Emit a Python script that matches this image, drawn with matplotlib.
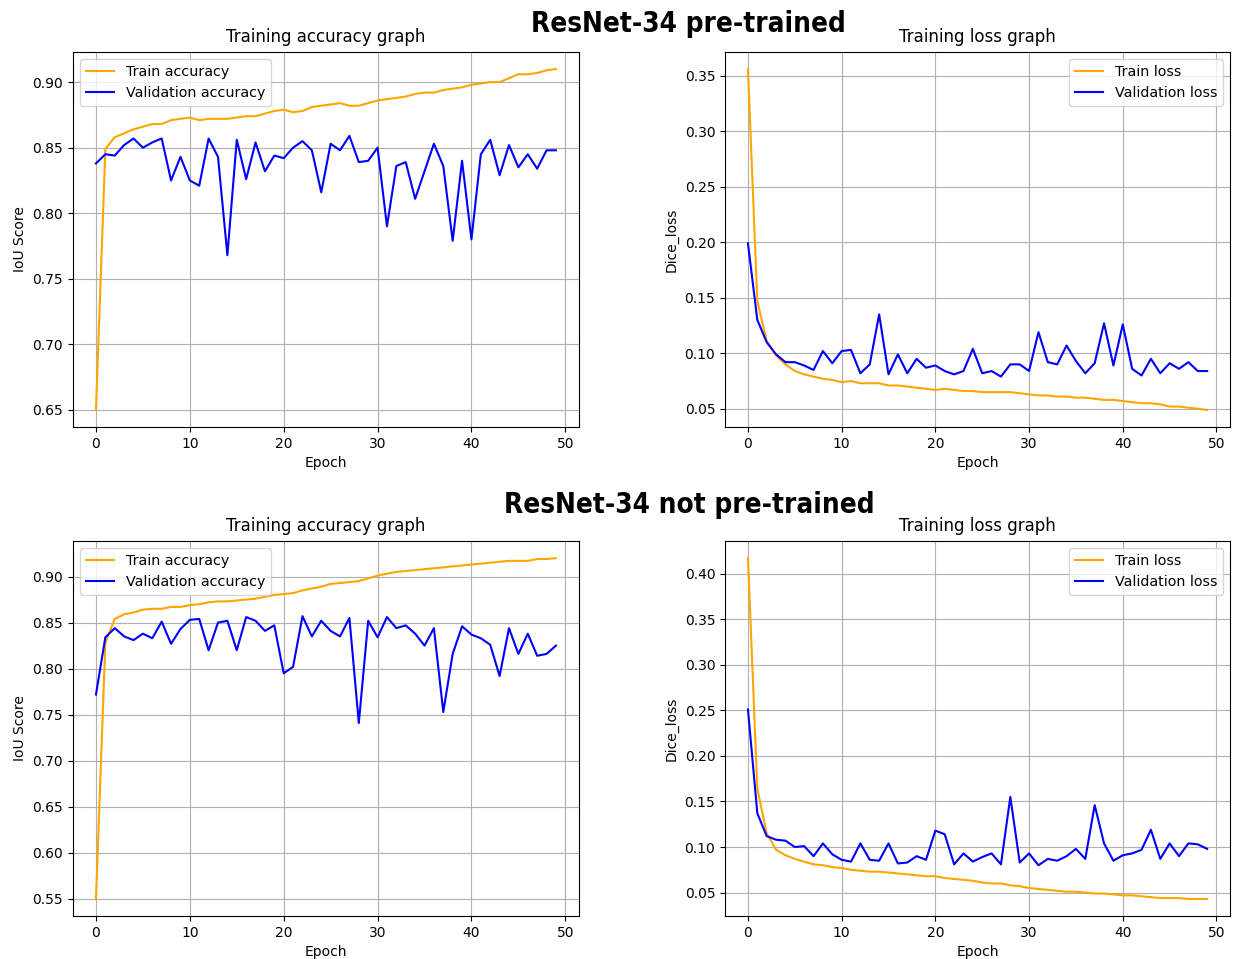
import matplotlib
matplotlib.use("Agg")
import matplotlib.pyplot as plt
import numpy as np

epochs = np.arange(50)

# ResNet-34 pre-trained
pre_train_acc = [0.650, 0.849, 0.858, 0.861, 0.864, 0.866, 0.868, 0.868, 0.871, 0.872,
                 0.873, 0.871, 0.872, 0.872, 0.872, 0.873, 0.874, 0.874, 0.876, 0.878,
                 0.879, 0.877, 0.878, 0.881, 0.882, 0.883, 0.884, 0.882, 0.882, 0.884,
                 0.886, 0.887, 0.888, 0.889, 0.891, 0.892, 0.892, 0.894, 0.895, 0.896,
                 0.898, 0.899, 0.900, 0.900, 0.903, 0.906, 0.906, 0.907, 0.909, 0.910]
pre_val_acc = [0.838, 0.845, 0.844, 0.852, 0.857, 0.850, 0.854, 0.857, 0.825, 0.843,
               0.825, 0.821, 0.857, 0.843, 0.768, 0.856, 0.826, 0.854, 0.832, 0.844,
               0.842, 0.850, 0.855, 0.848, 0.816, 0.853, 0.848, 0.859, 0.839, 0.840,
               0.850, 0.790, 0.836, 0.839, 0.811, 0.832, 0.853, 0.836, 0.779, 0.840,
               0.780, 0.845, 0.856, 0.829, 0.852, 0.835, 0.845, 0.834, 0.848, 0.848]
pre_train_loss = [0.356, 0.147, 0.111, 0.098, 0.090, 0.084, 0.081, 0.079, 0.077, 0.076,
                  0.074, 0.075, 0.073, 0.073, 0.073, 0.071, 0.071, 0.070, 0.069, 0.068,
                  0.067, 0.068, 0.067, 0.066, 0.066, 0.065, 0.065, 0.065, 0.065, 0.064,
                  0.063, 0.062, 0.062, 0.061, 0.061, 0.060, 0.060, 0.059, 0.058, 0.058,
                  0.057, 0.056, 0.055, 0.055, 0.054, 0.052, 0.052, 0.051, 0.050, 0.049]
pre_val_loss = [0.199, 0.130, 0.110, 0.099, 0.092, 0.092, 0.089, 0.085, 0.102, 0.091,
                0.102, 0.103, 0.082, 0.090, 0.135, 0.081, 0.099, 0.082, 0.095, 0.087,
                0.089, 0.084, 0.081, 0.084, 0.104, 0.082, 0.084, 0.079, 0.090, 0.090,
                0.084, 0.119, 0.092, 0.090, 0.107, 0.093, 0.082, 0.091, 0.127, 0.089,
                0.126, 0.086, 0.080, 0.095, 0.082, 0.091, 0.086, 0.092, 0.084, 0.084]

# ResNet-34 not pre-trained
scr_train_acc = [0.550, 0.828, 0.854, 0.859, 0.861, 0.864, 0.865, 0.865, 0.867, 0.867,
                 0.869, 0.870, 0.872, 0.873, 0.873, 0.874, 0.875, 0.876, 0.878, 0.880,
                 0.881, 0.882, 0.885, 0.887, 0.889, 0.892, 0.893, 0.894, 0.895, 0.898,
                 0.901, 0.903, 0.905, 0.906, 0.907, 0.908, 0.909, 0.910, 0.911, 0.912,
                 0.913, 0.914, 0.915, 0.916, 0.917, 0.917, 0.917, 0.919, 0.919, 0.920]
scr_val_acc = [0.772, 0.834, 0.844, 0.835, 0.831, 0.838, 0.833, 0.851, 0.827, 0.843,
               0.853, 0.854, 0.820, 0.850, 0.852, 0.820, 0.856, 0.852, 0.841, 0.847,
               0.795, 0.802, 0.857, 0.835, 0.852, 0.841, 0.835, 0.855, 0.741, 0.852,
               0.834, 0.856, 0.844, 0.847, 0.838, 0.825, 0.844, 0.753, 0.816, 0.846,
               0.837, 0.833, 0.826, 0.792, 0.844, 0.816, 0.838, 0.814, 0.816, 0.825]
scr_train_loss = [0.417, 0.164, 0.115, 0.097, 0.091, 0.087, 0.084, 0.081, 0.080, 0.078,
                  0.077, 0.075, 0.074, 0.073, 0.073, 0.072, 0.071, 0.070, 0.069, 0.068,
                  0.068, 0.066, 0.065, 0.064, 0.063, 0.061, 0.060, 0.060, 0.058, 0.057,
                  0.055, 0.054, 0.053, 0.052, 0.051, 0.051, 0.050, 0.049, 0.049, 0.048,
                  0.047, 0.047, 0.046, 0.045, 0.044, 0.044, 0.044, 0.043, 0.043, 0.043]
scr_val_loss = [0.251, 0.137, 0.112, 0.108, 0.107, 0.100, 0.101, 0.090, 0.104, 0.092,
                0.086, 0.084, 0.104, 0.086, 0.085, 0.104, 0.082, 0.083, 0.090, 0.086,
                0.118, 0.114, 0.081, 0.093, 0.084, 0.089, 0.093, 0.081, 0.155, 0.083,
                0.093, 0.080, 0.087, 0.085, 0.090, 0.098, 0.087, 0.146, 0.104, 0.085,
                0.091, 0.093, 0.097, 0.119, 0.087, 0.104, 0.090, 0.104, 0.103, 0.098]

headings = ["ResNet-34 pre-trained", "ResNet-34 not pre-trained"]

plt.rcParams['font.size'] = 10
plt.rcParams['legend.fontsize'] = 10.3

fig = plt.figure(figsize=(12.41, 9.59), dpi=100)

rows = [
    (0.5548, pre_train_acc, pre_val_acc, pre_train_loss, pre_val_loss),
    (0.0448, scr_train_acc, scr_val_acc, scr_train_loss, scr_val_loss),
]

for bottom, tr_acc, va_acc, tr_loss, va_loss in rows:
    ax1 = fig.add_axes([0.0588, bottom, 0.4077, 0.391])
    ax1.plot(epochs, tr_acc, color='orange', label='Train accuracy')
    ax1.plot(epochs, va_acc, color='blue', label='Validation accuracy')
    ax1.set_title('Training accuracy graph', fontsize=12, pad=7)
    ax1.set_xlabel('Epoch')
    ax1.set_ylabel('IoU Score')
    ax1.grid(True)
    ax1.legend(loc='upper left')

    ax2 = fig.add_axes([0.5842, bottom, 0.4070, 0.391])
    ax2.plot(epochs, tr_loss, color='orange', label='Train loss')
    ax2.plot(epochs, va_loss, color='blue', label='Validation loss')
    ax2.set_title('Training loss graph', fontsize=12, pad=7)
    ax2.set_xlabel('Epoch')
    ax2.set_ylabel('Dice_loss')
    ax2.grid(True)
    ax2.legend(loc='upper right')

# big headings over each row (condensed heavy face, close to the original look)
for (x, y), txt in zip([(688, 24), (689, 505)], headings):
    fig.text(x / 1241, 1 - y / 959, txt, ha='center', va='center',
             fontsize=20, fontweight='heavy', fontstretch='condensed',
             family=['Liberation Sans Narrow', 'DejaVu Sans'])

fig.savefig('out.png', dpi=100)
